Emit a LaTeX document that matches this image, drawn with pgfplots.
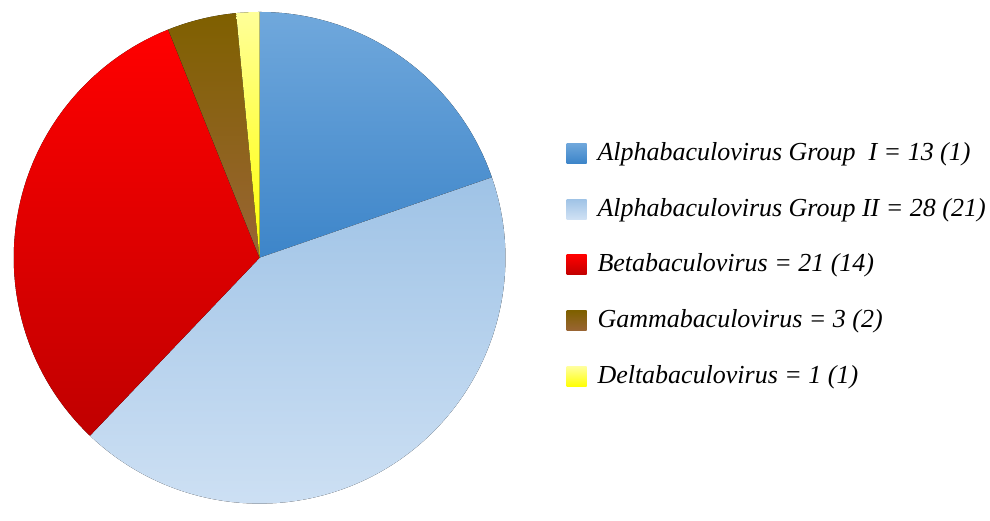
\documentclass[border=0pt]{standalone}
\usepackage{fontspec}
\setmainfont{Liberation Serif}
\usepackage{pgfplots}
\usepackage{pgfplotstable}
\pgfplotsset{compat=1.18}
\definecolor{top0}{HTML}{70A8DC}\definecolor{bot0}{HTML}{3D85C9}
\definecolor{top1}{HTML}{9FC3E6}\definecolor{bot1}{HTML}{CFE1F4}
\definecolor{top2}{HTML}{FF0000}\definecolor{bot2}{HTML}{C00000}
\definecolor{top3}{HTML}{7F6000}\definecolor{bot3}{HTML}{9A6535}
\definecolor{top4}{HTML}{FFFF99}\definecolor{bot4}{HTML}{FFFF00}
\pgfplotstableread{
name value sub
A 13 1
B 28 21
C 21 14
D 3 2
E 1 1
}\piedata
\begin{document}
\begin{tikzpicture}
\begin{axis}[width=990pt, height=503pt, scale only axis,
  xmin=0, xmax=990, ymin=0, ymax=503, hide axis, clip=false,
  legend style={at={(axis cs:566,361)}, anchor=north west, draw=none, fill=none,
    inner sep=0pt, row sep=32pt,
    font=\fontsize{26}{30}\selectfont\itshape,
    nodes={inner sep=0pt, text height=18pt, text depth=6pt, anchor=base west}},
  legend cell align=left,
  /tikz/every odd column/.append style={column sep=11pt},
  legend image code/.code={\path[#1, draw=none] (0pt,-3pt) rectangle (20pt,17pt);},
]
\path (axis cs:0,0) rectangle (axis cs:990,503);
\addlegendimage{top color=top0, bottom color=bot0}
\addlegendentry{Alphabaculovirus Group\ \ I = 13 (1)}
\addlegendimage{top color=top1, bottom color=bot1}
\addlegendentry{Alphabaculovirus Group II = 28 (21)}
\addlegendimage{top color=top2, bottom color=bot2}
\addlegendentry{Betabaculovirus = 21 (14)}
\addlegendimage{top color=top3, bottom color=bot3}
\addlegendentry{Gammabaculovirus = 3 (2)}
\addlegendimage{top color=top4, bottom color=bot4}
\addlegendentry{Deltabaculovirus = 1 (1)}
\def\total{0}
\pgfplotsforeachungrouped \i in {0,...,4}{%
  \pgfplotstablegetelem{\i}{value}\of\piedata
  \pgfmathsetmacro\total{\total+\pgfplotsretval}%
}
\def\startang{90}
\pgfplotsforeachungrouped \i in {0,...,4}{%
  \pgfplotstablegetelem{\i}{value}\of\piedata
  \pgfmathsetmacro\endang{\startang-\pgfplotsretval/\total*360}%
  \edef\temp{\noexpand\fill[top color=top\i, bottom color=bot\i] (axis cs:259,245) -- ++(\startang:246pt) arc[start angle=\startang, end angle=\endang, radius=246pt] -- cycle;}%
  \temp
  \global\let\startang\endang
}
\end{axis}
\end{tikzpicture}
\end{document}
